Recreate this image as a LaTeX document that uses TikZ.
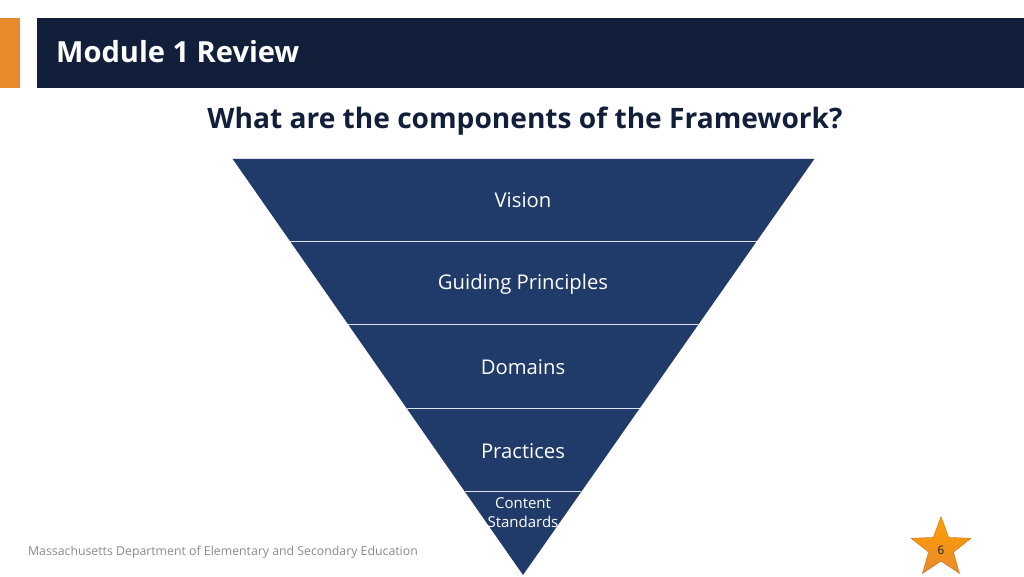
\documentclass[tikz,border=0pt]{standalone}
\usepackage{fontspec}
\setmainfont{Open Sans}
\usetikzlibrary{calc,shapes.geometric}
\definecolor{headnavy}{HTML}{121F3B}
\definecolor{tabor}{HTML}{E8892B}
\definecolor{funnel}{HTML}{203A6A}
\definecolor{footgray}{HTML}{8A8A8A}
\tikzset{
    band/.style={text=white, font=\fontsize{17.3pt}{19pt}\selectfont, align=center},
    sepline/.style={draw=white!85!funnel, line width=0.8pt}
}
\begin{document}
\begin{tikzpicture}[x=0.03cm, y=-0.03cm]
                \useasboundingbox (0,0) rectangle (1024,576);
                % header
                \fill[tabor] (0,18) rectangle (20,88);
                \fill[headnavy] (37,18) rectangle (1024,88);
                \node[anchor=west, text=white, font=\fontsize{24.8pt}{28pt}\selectfont\bfseries] (title) at (52,52) {Module 1 Review};
                \node[text=headnavy, font=\fontsize{24pt}{28pt}\selectfont\bfseries] (question) at (525,121) {What are the components of the Framework?};
                % funnel
                \coordinate (tl) at (232,158);
                \coordinate (tr) at (815,158);
                \coordinate (apex) at (523,575);
                \fill[funnel] (tl) -- (tr) -- (apex) -- cycle;
                \draw[sepline] (tl) -- (tr);
                \foreach \i in {1,...,4}
                    \draw[sepline] ($(tl)!\i/5!(apex)$) -- ($(tr)!\i/5!(apex)$);
                \node[band] (vision) at (523,200) {Vision};
                \node[band] (guiding) at (523,284) {Guiding Principles};
                \node[band] (domains) at (523,367) {Domains};
                \node[band] (practices) at (523,451) {Practices};
                \node[band, font=\fontsize{12.8pt}{16pt}\selectfont] (content) at (523,513) {Content\\Standards};
                % footer
                \node[anchor=west, text=footgray, font=\fontsize{10.5pt}{12pt}\selectfont] (footer) at (24,552) {Massachusetts Department of Elementary and Secondary Education};
                \node[star, star points=5, star point ratio=2.4, minimum size=63*0.03cm, inner sep=0pt, draw=tabor!80!black, line width=0.3pt, top color=orange!75!yellow, bottom color=tabor] (pagestar) at (941,548) {};
                \node[text=headnavy, font=\fontsize{10pt}{12pt}\selectfont] (pagenum) at (941,550) {6};
\end{tikzpicture}
\end{document}
